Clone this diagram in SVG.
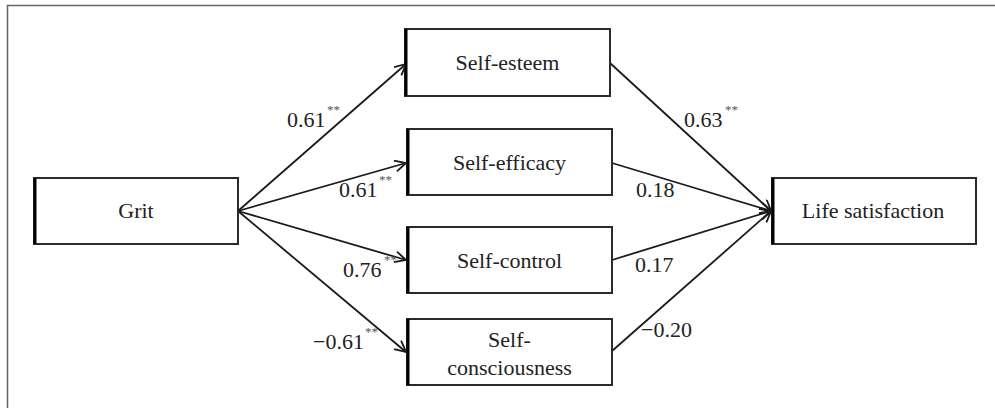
<svg xmlns="http://www.w3.org/2000/svg" width="995" height="408" viewBox="0 0 995 408" font-family="Liberation Serif, serif">
<style>
.box{fill:#fff;stroke:#2b2b2b;stroke-width:2}
.lb{stroke:#000;stroke-width:3}
.e{stroke:#1a1a1a;stroke-width:1.8;fill:none;marker-end:url(#arr)}
</style>
<defs>
<marker id="arr" markerUnits="userSpaceOnUse" markerWidth="16" markerHeight="16" refX="12" refY="6" orient="auto">
<path d="M1,0.5 L12,6 L1,11.5" fill="none" stroke="#1a1a1a" stroke-width="1.8"/>
</marker>
</defs>
<rect width="995" height="408" fill="#fff"/>
<path d="M7.5,408 V5.5 H995" fill="none" stroke="#666" stroke-width="1.5"/>
<g id="connectors">
<line class="e" x1="238" y1="211" x2="406" y2="64"/>
<line class="e" x1="238" y1="211" x2="406" y2="163"/>
<line class="e" x1="238" y1="211" x2="406" y2="260"/>
<line class="e" x1="238" y1="211" x2="406" y2="352"/>
<line class="e" x1="610" y1="63" x2="771" y2="211"/>
<line class="e" x1="612" y1="163" x2="771" y2="211"/>
<line class="e" x1="612" y1="260" x2="771" y2="211"/>
<line class="e" x1="612" y1="351" x2="771" y2="211"/>
</g>
<g id="labels" font-family="Liberation Serif" font-size="22" fill="#222">
<text x="287" y="127">0.61</text><text x="327" y="114" font-size="13" fill="#555">**</text>
<text x="339" y="197">0.61</text><text x="379" y="184" font-size="13" fill="#555">**</text>
<text x="343" y="277">0.76</text><text x="384" y="264" font-size="13" fill="#555">**</text>
<text x="313" y="349">−0.61</text><text x="365" y="336" font-size="13" fill="#555">**</text>
<text x="684" y="127">0.63</text><text x="725" y="114" font-size="13" fill="#555">**</text>
<text x="636" y="197">0.18</text>
<text x="635" y="272">0.17</text>
<text x="641" y="337">−0.20</text>
</g>
<g id="grit" font-family="Liberation Serif" font-size="22" fill="#222" text-anchor="middle">
<rect class="box" x="34" y="178" width="204" height="66"/>
<line class="lb" x1="35" y1="178" x2="35" y2="244"/>
<text x="136" y="218">Grit</text>
</g>
<g id="self-esteem" font-family="Liberation Serif" font-size="22" fill="#222" text-anchor="middle">
<rect class="box" x="405" y="29" width="205" height="67"/>
<line class="lb" x1="406" y1="29" x2="406" y2="96"/>
<text x="507.5" y="70">Self-esteem</text>
</g>
<g id="self-efficacy" font-family="Liberation Serif" font-size="22" fill="#222" text-anchor="middle">
<rect class="box" x="407" y="129" width="205" height="66"/>
<line class="lb" x1="408" y1="129" x2="408" y2="195"/>
<text x="509.5" y="170">Self-efficacy</text>
</g>
<g id="self-control" font-family="Liberation Serif" font-size="22" fill="#222" text-anchor="middle">
<rect class="box" x="407" y="227" width="205" height="66"/>
<line class="lb" x1="408" y1="227" x2="408" y2="293"/>
<text x="509.5" y="268">Self-control</text>
</g>
<g id="self-consciousness" font-family="Liberation Serif" font-size="22" fill="#222" text-anchor="middle">
<rect class="box" x="407" y="319" width="205" height="66"/>
<line class="lb" x1="408" y1="319" x2="408" y2="385"/>
<text x="509.5" y="347">Self-</text>
<text x="509.5" y="375">consciousness</text>
</g>
<g id="life-satisfaction" font-family="Liberation Serif" font-size="22" fill="#222" text-anchor="middle">
<rect class="box" x="772" y="178" width="204" height="66"/>
<line class="lb" x1="773" y1="178" x2="773" y2="244"/>
<text x="873" y="218">Life satisfaction</text>
</g>
</svg>
